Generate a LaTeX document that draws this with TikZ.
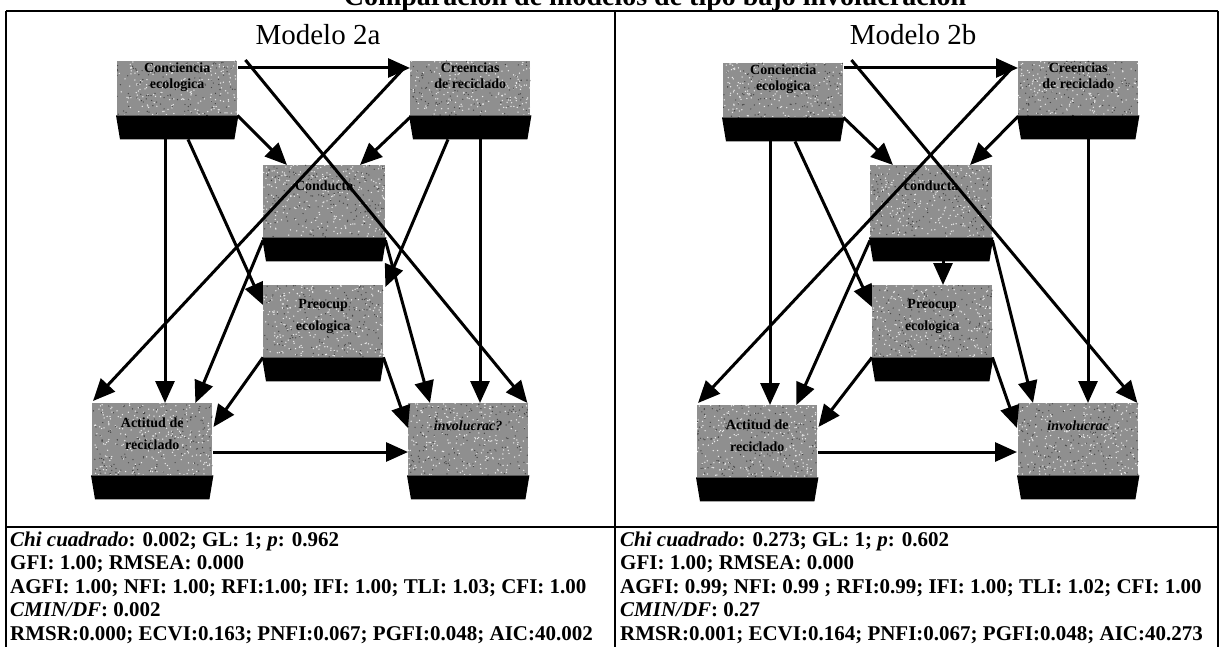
\documentclass[tikz,border=0pt]{standalone}
\usepackage{fontspec}
\setmainfont{Liberation Serif}
\usetikzlibrary{arrows.meta,calc}
\tikzset{
  vbox/.style={anchor=north west, fill=black!44, draw=none, inner sep=0pt,
    minimum width=120pt, minimum height=72pt},
  vlbl/.style={anchor=base, inner sep=0pt, font=\fontsize{14}{16}\selectfont\bfseries},
  conn/.style={line width=3pt, -{Triangle[length=22pt,width=19pt]}},
  frame/.style={line width=1.4pt},
  stats/.style={anchor=base west, inner sep=0pt, font=\fontsize{21}{22}\selectfont\bfseries},
  modl/.style={anchor=base, inner sep=0pt, font=\fontsize{29}{30}\selectfont},
}
% black plinth under each variable box
\newcommand\plinth[1]{\fill ($(#1.south west)+(-1,0)$) -- ($(#1.south east)+(1,0)$)
  -- ($(#1.south east)+(-3,24)$) -- ($(#1.south west)+(3,24)$) -- cycle;}
% granite-like grain on the face of a box
\newcommand\grain[1]{\begin{scope}
  \clip (#1.south west) rectangle (#1.north east);
  \foreach \k in {1,...,260}{\fill[white!92!black] ($(#1.north west)+({rnd*122},{rnd*72})$) circle (0.75pt);}
  \foreach \k in {1,...,160}{\fill[black!72] ($(#1.north west)+({rnd*122},{rnd*72})$) circle (0.7pt);}
  \end{scope}}
\begin{document}
\begin{tikzpicture}[x=1pt,y=-1pt]
\pgfmathsetseed{17}
\useasboundingbox (0,0) rectangle (1222,647);
\clip (0,0) rectangle (1222,647);

% heading (cut at the top edge)
\node[anchor=base, inner sep=0pt, font=\fontsize{28}{30}\selectfont\bfseries] (ttl) at (655,6)
  {Comparación de modelos de tipo bajo involucración};

% table frame
\draw[frame] (6,11) -- (1218,11);
\draw[frame] (6,11) -- (6,647);
\draw[frame] (615,11) -- (615,647);
\draw[frame] (1218,11) -- (1218,647);
\draw[frame] (6,527) -- (1218,527);

% ---------------- Modelo 2a ----------------
\node[modl] (m2a) at (318,45) {Modelo 2a};

\node[vbox, minimum height=54pt] (A) at (117,61) {};
\node[vbox, minimum height=54pt] (B) at (410,61) {};
\node[vbox, minimum width=122pt] (C) at (263,165) {};
\node[vbox] (D) at (263,285) {};
\node[vbox] (E) at (92,403) {};
\node[vbox] (F) at (408,403) {};
\foreach \n in {A,B,C,D,E,F}{\grain{\n}\plinth{\n}}

\node[vlbl] (A1) at ($(A.north)+(0,12)$) {Conciencia};
\node[vlbl] (A2) at ($(A.north)+(0,28)$) {ecologica};
\node[vlbl] (B1) at ($(B.north)+(0,12)$) {Creencias};
\node[vlbl] (B2) at ($(B.north)+(0,28)$) {de reciclado};
\node[vlbl] (C1) at ($(C.north)+(0,25)$) {Conducta};
\node[vlbl] (D1) at ($(D.north)+(0,23)$) {Preocup};
\node[vlbl] (D2) at ($(D.north)+(0,45)$) {ecologica};
\node[vlbl] (E1) at ($(E.north)+(0,24)$) {Actitud de};
\node[vlbl] (E2) at ($(E.north)+(0,46)$) {reciclado};
\node[vlbl, font=\fontsize{14}{16}\selectfont\bfseries\itshape] (F1) at ($(F.north)+(0,27)$) {involucrac?};

\coordinate (a1) at ($(A.south west)+(48,24)$);
\coordinate (b1) at ($(B.south west)+(70,24)$);
\draw[conn] ($(A.north east)+(1,7)$) -- ($(B.north west)+(0,7)$);
\draw[conn] (A.south east) -- ($(C.north west)+(24,0)$);
\draw[conn] ($(B.south west)+(0,2)$) -- ($(C.north west)+(97,0)$);
\draw[conn] (a1) -- (a1 |- E.north);
\draw[conn] ($(A.south west)+(71,24)$) -- ($(D.north west)+(0,20)$);
\draw[conn] ($(A.north east)+(8,-1)$) -- ($(F.north east)+(-1,0)$);
\draw[conn] ($(B.north west)+(-5,6)$) -- ($(E.north west)+(1,-2)$);
\draw[conn] ($(B.south west)+(38,24)$) -- ($(D.north east)+(2,2)$);
\draw[conn] (b1) -- (b1 |- F.north);
\draw[conn] ($(C.south west)+(0,3)$) -- ($(E.north east)+(-17,0)$);
\draw[conn] ($(C.south east)+(0,3)$) -- ($(F.north west)+(22,0)$);
\draw[conn] (D.south west) -- ($(E.north east)+(1,24)$);
\draw[conn] (D.south east) -- ($(F.north west)+(0,25)$);
\draw[conn] ($(E.north east)+(1,49)$) -- ($(F.north west)+(0,49)$);

% ---------------- Modelo 2b ----------------
\node[modl] (m2b) at (913,45) {Modelo 2b};

\node[vbox, minimum height=54pt] (A') at (723,63) {};
\node[vbox, minimum height=54pt] (B') at (1018,61) {};
\node[vbox, minimum width=122pt] (C') at (870,165) {};
\node[vbox] (D') at (872,285) {};
\node[vbox] (E') at (697,405) {};
\node[vbox] (F') at (1018,403) {};
\foreach \n in {A',B',C',D',E',F'}{\grain{\n}\plinth{\n}}

\node[vlbl] (A1') at ($(A'.north)+(0,12)$) {Conciencia};
\node[vlbl] (A2') at ($(A'.north)+(0,28)$) {ecologica};
\node[vlbl] (B1') at ($(B'.north)+(0,12)$) {Creencias};
\node[vlbl] (B2') at ($(B'.north)+(0,28)$) {de reciclado};
\node[vlbl] (C1') at ($(C'.north)+(0,25)$) {conducta};
\node[vlbl] (D1') at ($(D'.north)+(0,23)$) {Preocup};
\node[vlbl] (D2') at ($(D'.north)+(0,45)$) {ecologica};
\node[vlbl] (E1') at ($(E'.north)+(0,24)$) {Actitud de};
\node[vlbl] (E2') at ($(E'.north)+(0,46)$) {reciclado};
\node[vlbl, font=\fontsize{14}{16}\selectfont\bfseries\itshape] (F1') at ($(F'.north)+(0,27)$) {involucrac};

\coordinate (a2) at ($(A'.south west)+(47,24)$);
\coordinate (b2) at ($(B'.south west)+(70,24)$);
\coordinate (c2) at ($(C'.south west)+(73,24)$);
\draw[conn] ($(A'.north east)+(1,5)$) -- ($(B'.north west)+(0,7)$);
\draw[conn] (A'.south east) -- ($(C'.north west)+(23,0)$);
\draw[conn] ($(B'.south west)+(0,1)$) -- ($(C'.north west)+(100,0)$);
\draw[conn] (a2) -- (a2 |- E'.north);
\draw[conn] ($(A'.south west)+(72,24)$) -- ($(D'.north west)+(0,22)$);
\draw[conn] ($(A'.north east)+(8,-3)$) -- ($(F'.north east)+(-1,0)$);
\draw[conn] ($(B'.north west)+(-5,6)$) -- ($(E'.north west)+(1,-2)$);
\draw[conn] (b2) -- (b2 |- F'.north);
\draw[conn] (c2) -- (c2 |- D'.north);
\draw[conn] ($(C'.south west)+(0,3)$) -- ($(E'.north east)+(-21,0)$);
\draw[conn] ($(C'.south east)+(0,3)$) -- ($(F'.north west)+(15,0)$);
\draw[conn] (D'.south west) -- ($(E'.north east)+(1,22)$);
\draw[conn] (D'.south east) -- ($(F'.north west)+(-1,25)$);
\draw[conn] ($(E'.north east)+(1,47)$) -- ($(F'.north west)+(-1,49)$);

% ---------------- fit statistics ----------------
\node[stats] (s1) at (10,546) {\textit{Chi cuadrado}: 0.002; GL: 1; \textit{p}: 0.962};
\node[stats] (s2) at (10,569.5) {GFI: 1.00; RMSEA: 0.000};
\node[stats] (s3) at (10,593) {AGFI: 1.00; NFI: 1.00; RFI:1.00; IFI: 1.00; TLI: 1.03; CFI: 1.00};
\node[stats] (s4) at (10,616.5) {\textit{CMIN/DF}: 0.002};
\node[stats] (s5) at (10,640) {RMSR:0.000; ECVI:0.163; PNFI:0.067; PGFI:0.048; AIC:40.002};

\node[stats] (t1) at (620,546) {\textit{Chi cuadrado}: 0.273; GL: 1; \textit{p}: 0.602};
\node[stats] (t2) at (620,569.5) {GFI: 1.00; RMSEA: 0.000};
\node[stats] (t3) at (620,593) {AGFI: 0.99; NFI: 0.99 ; RFI:0.99; IFI: 1.00; TLI: 1.02; CFI: 1.00};
\node[stats] (t4) at (620,616.5) {\textit{CMIN/DF}: 0.27};
\node[stats] (t5) at (620,640) {RMSR:0.001; ECVI:0.164; PNFI:0.067; PGFI:0.048; AIC:40.273};
\end{tikzpicture}
\end{document}
